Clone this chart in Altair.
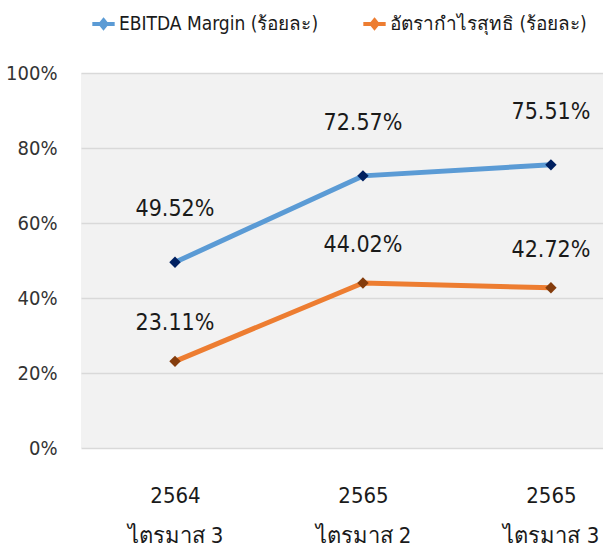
import altair as alt
import pandas as pd

periods = ["2564|ไตรมาส 3", "2565|ไตรมาส 2", "2565|ไตรมาส 3"]
series_names = ["EBITDA Margin (ร้อยละ)", "อัตรากำไรสุทธิ (ร้อยละ)"]
ebitda = [49.52, 72.57, 75.51]
net_margin = [23.11, 44.02, 42.72]

rows = []
for i, (p, v) in enumerate(zip(periods, ebitda)):
    rows.append({"idx": i, "period": p, "series": series_names[0], "value": v / 100})
for i, (p, v) in enumerate(zip(periods, net_margin)):
    rows.append({"idx": i, "period": p, "series": series_names[1], "value": v / 100})
df = pd.DataFrame(rows)

FONT = "DejaVu Sans Condensed, DejaVu Sans, sans-serif"
line_colors = ["#5B9BD5", "#ED7D31"]
marker_colors = ["#002060", "#843C0C"]

label_expr = "split([" + ",".join("'" + p + "'" for p in periods) + "][datum.value], '|')"

x_enc = alt.X(
    "idx:Q",
    scale=alt.Scale(domain=[-0.5, 2.277], nice=False, zero=False),
    axis=alt.Axis(
        title=None, domain=False, ticks=False, grid=False, labelAngle=0,
        values=[0, 1, 2],
        labelExpr=label_expr,
        labelFontSize=22, labelLineHeight=40, labelPadding=37,
        labelColor="#1a1a1a", labelFont=FONT, labelBaseline="top",
        labelOverlap=False, labelFlush=False,
    ),
)
y_enc = alt.Y(
    "value:Q",
    scale=alt.Scale(domain=[0, 1], nice=False),
    axis=alt.Axis(
        title=None, format=".0%", values=[0, 0.2, 0.4, 0.6, 0.8, 1.0],
        domain=False, ticks=False, grid=True, gridColor="#d9d9d9", gridWidth=1.5,
        labelFontSize=20, labelPadding=24, labelColor="#333333", labelFont=FONT,
    ),
)

base = alt.Chart(df)

lines = base.mark_line(strokeWidth=5).encode(
    x=x_enc, y=y_enc,
    color=alt.Color(
        "series:N",
        scale=alt.Scale(domain=series_names, range=line_colors),
        legend=alt.Legend(
            title=None, orient="none", direction="horizontal",
            legendX=9, legendY=-63,
            symbolType="M-1,0H1M0,-0.32L0.26,0L0,0.32L-0.26,0Z",
            symbolSize=500, symbolStrokeWidth=4,
            labelFontSize=19, labelFont=FONT, labelColor="#1a1a1a",
            labelLimit=0, columnPadding=36, labelOffset=2,
        ),
    ),
)

points = base.mark_point(shape="diamond", filled=True, size=130, opacity=1).encode(
    x=x_enc, y=y_enc,
    fill=alt.Fill("series:N", scale=alt.Scale(domain=series_names, range=marker_colors), legend=None),
)

labels_a = base.transform_filter(alt.datum.series == series_names[0]).mark_text(
    dy=-53, fontSize=23, font=FONT, color="#1a1a1a"
).encode(x=x_enc, y=y_enc, text=alt.Text("value:Q", format=".2%"))

labels_b = base.transform_filter(alt.datum.series == series_names[1]).mark_text(
    dy=-38, fontSize=23, font=FONT, color="#1a1a1a"
).encode(x=x_enc, y=y_enc, text=alt.Text("value:Q", format=".2%"))

chart = alt.layer(lines, points, labels_a, labels_b).resolve_scale(
    color="independent", fill="independent"
).properties(
    width=522, height=375,
    autosize=alt.AutoSizeParams(type="none"),
    padding={"left": 81, "top": 73, "right": 0, "bottom": 103},
    background="white",
).configure_view(fill="#f2f2f2", stroke=None)

chart.save("out.html", embed_options={"renderer": "svg", "actions": False})
